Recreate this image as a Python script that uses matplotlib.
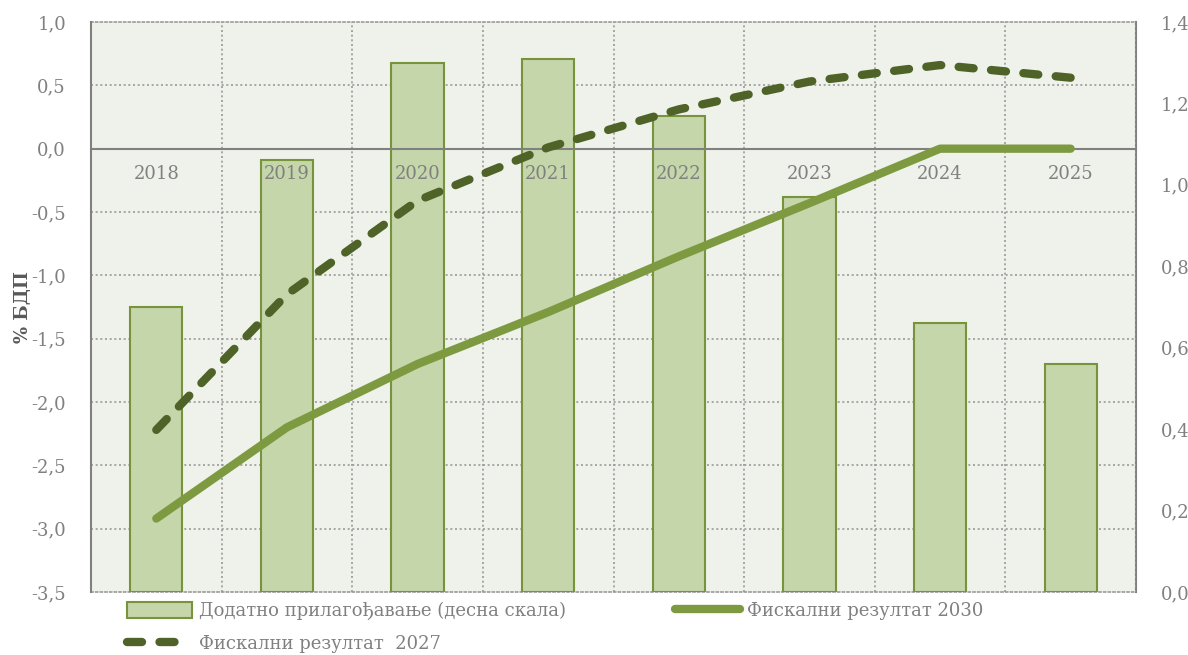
import numpy as np
import matplotlib
matplotlib.use("Agg")
import matplotlib.pyplot as plt
from matplotlib.patches import Patch
from matplotlib.lines import Line2D
from matplotlib.ticker import FixedLocator, FuncFormatter

# Data
years = ["2018", "2019", "2020", "2021", "2022", "2023", "2024", "2025"]
adjustment = [0.70, 1.06, 1.30, 1.31, 1.17, 0.97, 0.66, 0.56]       # right scale
result_2030 = [-2.92, -2.20, -1.70, -1.29, -0.85, -0.43, 0.0, 0.0]   # left scale
result_2027 = [-2.22, -1.15, -0.41, 0.01, 0.31, 0.53, 0.66, 0.56]    # left scale

label_bar = "Додатно прилагођавање (десна скала)"
label_2030 = "Фискални резултат 2030"
label_2027 = "Фискални резултат  2027"
ylabel = "% БДП"

# Styling
bg = "#EFF2EA"
bar_fill = "#C5D6AB"
bar_edge = "#77933C"
c2030 = "#7E9A41"
c2027 = "#4F6228"
grey = "#808080"
grid_c = "#9A9A9A"
font = "DejaVu Serif"
dotted = (0, (1.2, 1.6))

plt.rcParams["font.family"] = font

fig = plt.figure(figsize=(11.88, 6.55), dpi=100)
ax = fig.add_axes([91 / 1188, 1 - 592 / 655, (1136 - 91) / 1188, (592 - 22) / 655])
axb = ax.twinx()

x = np.arange(len(years))

# Bars (right scale), drawn underneath the lines axes
axb.set_zorder(0)
ax.set_zorder(1)
ax.patch.set_visible(False)
axb.patch.set_facecolor(bg)
axb.patch.set_visible(True)

axb.bar(x, adjustment, width=0.40, color=bar_fill, edgecolor=bar_edge,
        linewidth=1.5, zorder=3)
axb.set_ylim(0, 1.4)
axb.yaxis.set_major_locator(FixedLocator(np.round(np.arange(0, 1.41, 0.2), 2)))
axb.yaxis.set_major_formatter(FuncFormatter(lambda v, p: f"{v:.1f}".replace(".", ",")))
# horizontal grid follows the left scale steps of 0.5 (9 steps over the range)
axb.yaxis.set_minor_locator(FixedLocator(np.linspace(0, 1.4, 10)))
axb.grid(which="minor", axis="y", color=grid_c, linestyle=dotted, linewidth=1.2, zorder=1)
axb.set_axisbelow(True)
axb.tick_params(axis="y", which="both", length=0, labelsize=13, labelcolor=grey, pad=18)
axb.spines["left"].set_visible(False)
for s in ["top", "bottom"]:
    axb.spines[s].set_color(grid_c)
    axb.spines[s].set_linestyle(dotted)
    axb.spines[s].set_linewidth(1.2)
axb.spines["right"].set_color(grey)
axb.spines["right"].set_linewidth(1.5)

# Lines (left scale)
ax.plot(x, result_2030, color=c2030, linewidth=6, solid_capstyle="round",
        solid_joinstyle="round", zorder=5)
ax.plot(x, result_2027, color=c2027, linewidth=6, dashes=(1.8, 2.1),
        dash_capstyle="round", dash_joinstyle="round", zorder=6)
ax.set_ylim(-3.5, 1.0)
ax.set_xlim(-0.5, len(years) - 0.5)
ax.yaxis.set_major_locator(FixedLocator(np.round(np.arange(-3.5, 1.01, 0.5), 2)))
ax.yaxis.set_major_formatter(FuncFormatter(lambda v, p: f"{v:.1f}".replace(".", ",")))
ax.yaxis.tick_left()
ax.tick_params(axis="y", length=0, labelsize=13, labelcolor=grey, pad=18)
ax.set_xticks(x)
ax.set_xticklabels(years)
ax.xaxis.set_minor_locator(FixedLocator(np.arange(-0.5, len(years), 1.0)))
ax.grid(which="minor", axis="x", color=grid_c, linestyle=dotted, linewidth=1.2)
ax.set_axisbelow(True)
ax.tick_params(axis="x", which="both", length=0, labelsize=13, labelcolor=grey, pad=12)
ax.spines["bottom"].set_position(("data", 0))
ax.spines["bottom"].set_color(grey)
ax.spines["bottom"].set_linewidth(1.5)
ax.spines["left"].set_color(grey)
ax.spines["left"].set_linewidth(1.5)
ax.spines["top"].set_visible(False)
ax.spines["right"].set_visible(False)
ax.set_ylabel(ylabel, fontsize=13, fontweight="bold", color="#595959")
ax.yaxis.set_label_coords(-0.056, 0.5)

# Legend
handles = [
    Patch(facecolor=bar_fill, edgecolor=bar_edge, linewidth=1.5),
    Line2D([], [], color=c2027, linewidth=6, dashes=(1.8, 2.1), dash_capstyle="round"),
    Line2D([], [], color=c2030, linewidth=6, solid_capstyle="round"),
]
labels = [label_bar, label_2027, label_2030]
leg = fig.legend(handles, labels, ncol=2, loc="upper left",
                 bbox_to_anchor=(127 / 1188, 1 - 602 / 655), frameon=False,
                 fontsize=13, labelcolor=grey, handlelength=3.6, handleheight=1.0,
                 handletextpad=0.4, columnspacing=6.0, labelspacing=0.8,
                 borderaxespad=0, borderpad=0)

fig.savefig("out.png", dpi=100)
